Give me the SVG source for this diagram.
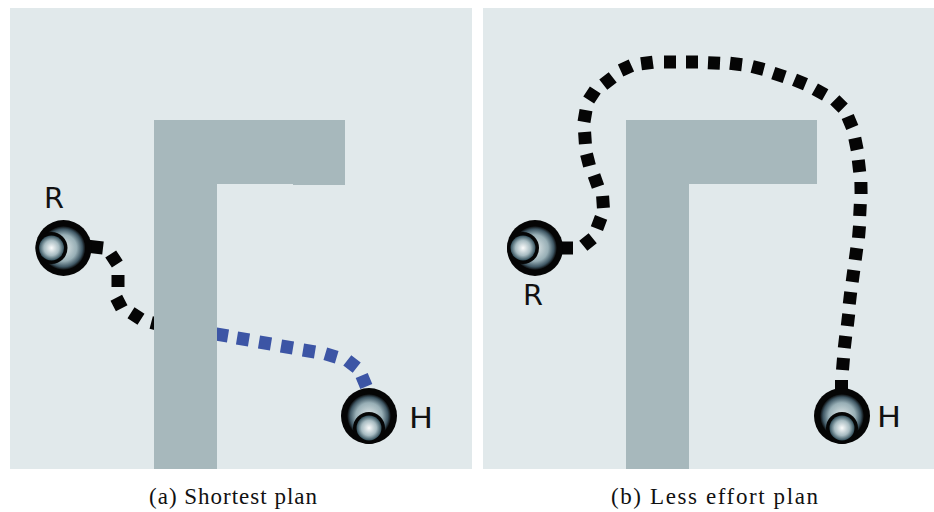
<svg xmlns="http://www.w3.org/2000/svg" xmlns:xlink="http://www.w3.org/1999/xlink" width="934" height="512" viewBox="0 0 934 512">
<style>
.panel{fill:#e1e9eb}
.wall{fill:#a7b8bc}
.dash{fill:none;stroke-width:13;stroke-linecap:butt}
.black{stroke:#050505}
.blue{stroke:#3c55a5}
.lbl{font-family:"DejaVu Sans",sans-serif;font-size:28px;fill:#111;font-weight:400}
.cap{font-family:"Liberation Serif",serif;font-size:23px;fill:#111}
</style>
<defs>
<radialGradient id="bodyG"><stop offset="0" stop-color="#e2e9ea"/><stop offset="0.6" stop-color="#98afb6"/><stop offset="0.86" stop-color="#3e5663"/><stop offset="1" stop-color="#050505"/></radialGradient>
<radialGradient id="headG"><stop offset="0" stop-color="#fbfcfc"/><stop offset="0.6" stop-color="#a8bcc2"/><stop offset="1" stop-color="#33505c"/></radialGradient>
<g id="robot">
<circle r="28" fill="#050505"/>
<circle r="22" fill="url(#bodyG)"/>
<circle cx="-12" r="16" fill="#050505"/>
<circle cx="-12" r="12.500" fill="url(#headG)"/>
</g>
</defs>
<rect width="934" height="512" fill="#fff"/>
<rect class="panel" x="10" y="8" width="462" height="461"/>
<rect class="panel" x="483" y="8" width="451" height="461"/>
<g id="connectors">
<path class="dash black" d="M86 246L103 248M110.700 254L117.300 264M118 275L118 287M116.300 297.700L121.700 308.300M131 312.800L141 319.200M151.200 322.500L162.800 325.500"/>
<path class="dash blue" d="M216 334L228 336M237 338L249 340M259 342L271 344M281 346L293 348M303 350L315 352M325.300 353.800L336.700 357.200M347.300 360.300L356.700 367.700M361.700 375.500L366.300 386.500"/>
<path class="dash black" d="M555 248L573 248M583.300 245.800L592.700 238.200M596.900 228.600L601.100 217.400M603.400 208L602.600 196M598 186.600L594 175.400M589.500 165.800L586.500 154.200M585.400 144L584.600 132M584 121.900L586 110.100M588.700 100L595.300 90M603.300 84.700L612.700 77.300M620.600 70.500L631.400 65.500M641.100 63.800L652.900 62.200M664 62L676 62M686 62L698 62M708 62.700L720 63.300M730 63.300L742 64.700M752.200 66.500L763.800 69.500M773.300 73.100L784.700 76.900M794.500 79.700L805.500 84.300M814.800 89.100L825.200 94.900M834.800 99.800L843.200 108.200M847.700 116.500L852.300 127.500M854.800 138.100L857.200 149.900M858.300 160L859.700 172M860.900 182L861.100 194M860.300 204L859.700 216M859.500 226L858.500 238M856.800 248.100L855.200 259.900M853.800 270.100L852.200 281.900M850.700 292L849.300 304M848.700 314L847.300 326M845.700 336L844.300 348M843.500 358L842.500 370M841.500 380L841.500 396"/>
</g>
<g id="wall-a"><path class="wall" d="M154 120H345V185H293V184H217V469H154Z"/></g>
<g id="wall-b"><path class="wall" d="M626 120H817V184H689V469H626Z"/></g>
<g id="robot-a">
<use xlink:href="#robot" href="#robot" transform="translate(63.500 248)"/>
<text class="lbl" x="44" y="208" textLength="20" lengthAdjust="spacingAndGlyphs">R</text>
</g>
<g id="human-a">
<use xlink:href="#robot" href="#robot" transform="translate(369 416) rotate(-90)"/>
<text class="lbl" x="409" y="428" textLength="24" lengthAdjust="spacingAndGlyphs">H</text>
</g>
<g id="robot-b">
<use xlink:href="#robot" href="#robot" transform="translate(535 248)"/>
<text class="lbl" x="523" y="305" textLength="20" lengthAdjust="spacingAndGlyphs">R</text>
</g>
<g id="human-b">
<use xlink:href="#robot" href="#robot" transform="translate(842 416) rotate(-90)"/>
<text class="lbl" x="877" y="427" textLength="24" lengthAdjust="spacingAndGlyphs">H</text>
</g>
<text class="cap" x="149" y="504" textLength="168" lengthAdjust="spacing">(a) Shortest plan</text>
<text class="cap" x="611" y="504" textLength="207" lengthAdjust="spacing">(b) Less effort plan</text>
</svg>
